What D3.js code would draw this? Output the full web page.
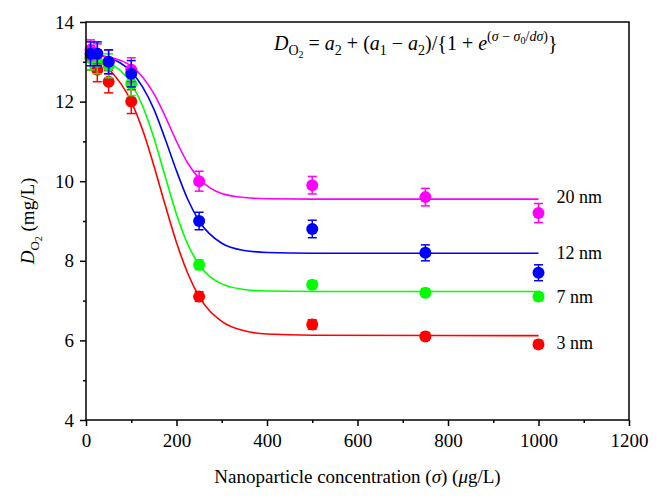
<!DOCTYPE html>
<html><head><meta charset="utf-8">
<script src="https://cdn.jsdelivr.net/npm/d3@7"></script>
<style>body{margin:0;background:#fff}svg{display:block}svg text{font-family:"Liberation Serif","DejaVu Serif",serif !important}</style>
</head><body><svg id="c" width="664" height="501"></svg>
<script>
// data
const xTicks = [0,200,400,600,800,1000,1200];
const yTicks = [4,6,8,10,12,14];
const seriesNames = ["20 nm","12 nm","7 nm","3 nm"];
const seriesColors = ["#ff00ff","#0000ff","#00ff00","#ff0000"];
const pointX = [10,25,50,100,250,500,750,1000];
const magentaY = [13.3,13.2,13.0,12.8,10.0,9.9,9.6,9.2];
const magentaErr = [0.25,0.25,0.3,0.3,0.25,0.22,0.22,0.24];
const blueY = [13.2,13.2,13.0,12.7,9.0,8.8,8.2,7.7];
const blueErr = [0.3,0.3,0.3,0.33,0.22,0.22,0.2,0.2];
const greenY = [13.1,13.0,12.9,12.45,7.9,7.4,7.2,7.1];
const greenErr = [0.3,0.3,0.3,0.3,0.12,0.1,0.1,0.1];
const redY = [13.1,12.8,12.5,12.0,7.1,6.4,6.1,5.9];
const redErr = [0.3,0.3,0.28,0.3,0.12,0.12,0.1,0.1];
// fitted curves
const curveX = [0,50,100,125,150,175,200,225,250,300,350,400,500,1000];
const magentaFit = [13.18,13.12,12.89,12.62,12.20,11.63,11.0,10.45,10.07,9.69,9.59,9.56,9.55,9.55];
const blueFit = [13.21,13.10,12.75,12.37,11.81,11.06,10.26,9.54,9.0,8.44,8.26,8.21,8.19,8.19];
const greenFit = [13.14,12.98,12.45,11.89,11.09,10.12,9.17,8.41,7.9,7.42,7.28,7.24,7.23,7.23];
const redFit = [13.15,12.82,12.0,11.29,10.39,9.40,8.46,7.68,7.1,6.48,6.24,6.16,6.13,6.12];

const L=86,R=629,T=22,B=420;
const FONT='"Liberation Serif","DejaVu Serif",serif';
const svg=d3.select("#c");
const x=d3.scaleLinear().domain([0,1200]).range([L,R]);
const y=d3.scaleLinear().domain([4,14]).range([B,T]);

const series=[
 {name:seriesNames[0],color:seriesColors[0],ys:magentaY,err:magentaErr,fit:magentaFit},
 {name:seriesNames[1],color:seriesColors[1],ys:blueY,err:blueErr,fit:blueFit},
 {name:seriesNames[2],color:seriesColors[2],ys:greenY,err:greenErr,fit:greenFit},
 {name:seriesNames[3],color:seriesColors[3],ys:redY,err:redErr,fit:redFit}
];

// axes
const xAxis=d3.axisBottom(x).tickValues(xTicks).tickSize(6).tickPadding(8).tickFormat(d3.format("d"));
const xMinor=d3.axisBottom(x).tickValues(d3.range(100,1200,200)).tickSize(3).tickFormat("");
const yAxis=d3.axisLeft(y).tickValues(yTicks).tickSize(6).tickPadding(6).tickFormat(d3.format("d"));
const yMinor=d3.axisLeft(y).tickValues(d3.range(5,14,2)).tickSize(3).tickFormat("");
function style(g){g.attr("font-family",null).attr("font-size",null);g.select(".domain").remove();g.selectAll("line").attr("stroke","#000").attr("stroke-width",1.5);g.selectAll("text").attr("fill","#000").style("font-family",FONT).style("font-size","19px");}
svg.append("g").attr("transform",`translate(0,${B})`).call(xAxis).call(style);
svg.append("g").attr("transform",`translate(0,${B})`).call(xMinor).call(style);
svg.append("g").attr("transform",`translate(${L},0)`).call(yAxis).call(style);
svg.append("g").attr("transform",`translate(${L},0)`).call(yMinor).call(style);

// curves
const line=d3.line().x(d=>x(d[0])).y(d=>y(d[1])).curve(d3.curveMonotoneX);
series.slice().reverse().forEach(s=>{
  svg.append("path").datum(curveX.map((cx,i)=>[cx,s.fit[i]])).attr("d",line)
   .attr("fill","none").attr("stroke",s.color).attr("stroke-width",1.6);
});
// points + error bars
const order=[series[3],series[2],series[0],series[1]];
order.forEach(s=>{
  const g=svg.append("g");
  pointX.forEach((px,i)=>{
    const cx=x(px), y0=y(s.ys[i]-s.err[i]), y1=y(s.ys[i]+s.err[i]);
    g.append("line").attr("x1",cx).attr("x2",cx).attr("y1",y0).attr("y2",y1).attr("stroke",s.color).attr("stroke-width",1.5);
    [y0,y1].forEach(yy=>g.append("line").attr("x1",cx-4.5).attr("x2",cx+4.5).attr("y1",yy).attr("y2",yy).attr("stroke",s.color).attr("stroke-width",1.5));
    g.append("circle").attr("cx",cx).attr("cy",y(s.ys[i])).attr("r",6).attr("fill",s.color);
  });
});
// frame
svg.append("rect").attr("x",L).attr("y",T).attr("width",R-L).attr("height",B-T).attr("fill","none").attr("stroke","#000").attr("stroke-width",1.5);

// series labels
const labelY={"20 nm":9.6,"12 nm":8.2,"7 nm":7.1,"3 nm":5.93};
series.forEach(s=>{
  svg.append("text").attr("x",x(1040)).attr("y",y(labelY[s.name])+6).style("font-size","18px").text(s.name);
});

// formula
const f=svg.append("text").attr("x",274).attr("y",50).style("font-size","20px");
const parts=[["D","i"],["O","s1"],["2","s2"],[" = ","n"],["a","i"],["2","s"],[" + (","n"],["a","i"],["1","s"],[" − ","n"],["a","i"],["2","s"],[")/{1 + ","n"],["e","i"],["(","p"],["σ","pi"],[" − ","p"],["σ","pi"],["0","ps"],["/","p"],["dσ","pi"],[")","p"],["}","n"]];
let cur=0;
function shift(target){const d=target-cur;cur=target;return d;}
parts.forEach(([t,k])=>{
  const ts=f.append("tspan").text(t);
  if(k==="i"){ts.attr("font-style","italic").style("font-size","20px").attr("dy",shift(0));}
  else if(k==="n"){ts.style("font-size","20px").attr("dy",shift(0));}
  else if(k==="s1"){ts.style("font-size","14px").attr("dy",shift(5));}
  else if(k==="s2"){ts.style("font-size","10px").attr("dy",shift(8));}
  else if(k==="s"){ts.style("font-size","14px").attr("dy",shift(5));}
  else if(k==="p"){ts.style("font-size","14px").attr("dy",shift(-9));}
  else if(k==="pi"){ts.style("font-size","14px").attr("font-style","italic").attr("dy",shift(-9));}
  else if(k==="ps"){ts.style("font-size","10px").attr("dy",shift(-6));}
});

// axis titles
svg.append("text").attr("x",(L+R)/2).attr("y",483).attr("text-anchor","middle").style("font-size","19px")
 .call(t=>{t.append("tspan").text("Nanoparticle concentration (");t.append("tspan").attr("font-style","italic").text("σ");t.append("tspan").text(") (");t.append("tspan").attr("font-style","italic").text("μ");t.append("tspan").text("g/L)");});
svg.append("text").attr("transform",`translate(34,${(T+B)/2}) rotate(-90)`).attr("text-anchor","middle").style("font-size","19px")
 .call(t=>{t.append("tspan").attr("font-style","italic").text("D");t.append("tspan").style("font-size","13px").attr("dy",5).text("O");t.append("tspan").style("font-size","10px").attr("dy",3).text("2");t.append("tspan").attr("dy",-8).text(" (mg/L)");});
</script></body></html>
